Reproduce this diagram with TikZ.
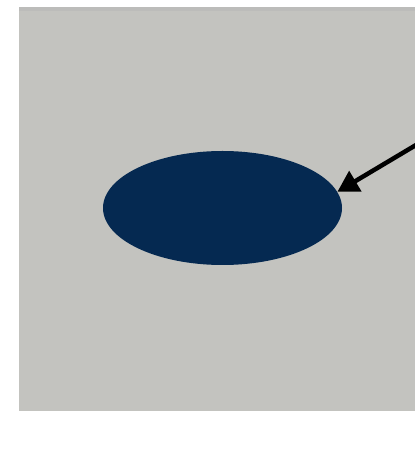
\documentclass[tikz,border=0pt]{standalone}
\usetikzlibrary{shapes.geometric,arrows.meta}
\definecolor{panelgray}{RGB}{195,195,191}
\definecolor{panelband}{RGB}{188,188,186}
\definecolor{spotblue}{RGB}{5,41,81}
\tikzset{
  spot/.style={ellipse, fill=spotblue, draw=none, inner sep=0pt, minimum width=239pt, minimum height=114pt},
  pointer/.style={draw=black, line width=4.5pt, -{Triangle[length=21pt,width=23pt]}}
}
\begin{document}
\begin{tikzpicture}[x=1pt,y=1pt]
\useasboundingbox (0,0) rectangle (415,450);
\fill[white] (0,0) rectangle (415,450);
\fill[panelgray] (19,39) rectangle (415,443);
\fill[panelband] (19,439) rectangle (415,443);
\node[spot] (e) at (222.5,242) {};
\coordinate (s) at (416,305);
\draw[pointer] (s) -- (e.8);
\end{tikzpicture}
\end{document}
